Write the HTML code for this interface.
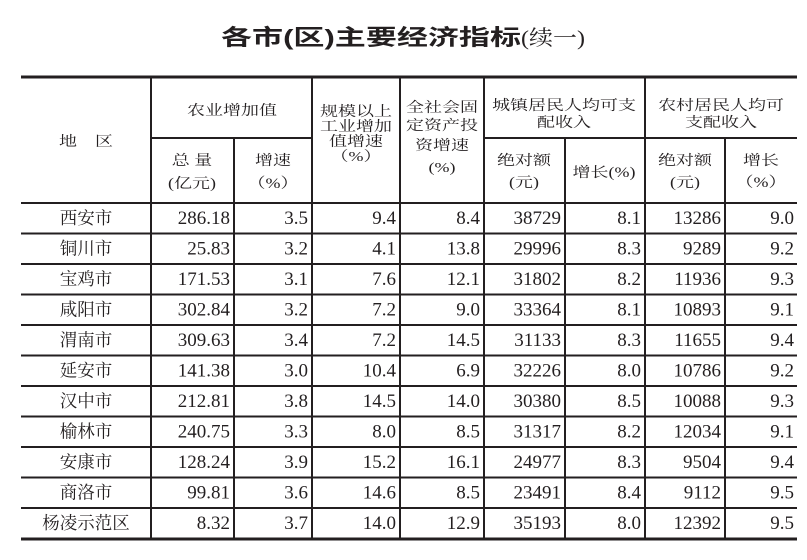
<!DOCTYPE html>
<html><head><meta charset="utf-8"><style>
html,body{margin:0;padding:0;background:#fff;}
svg{display:block;}
.h{font-family:"Liberation Serif","Noto Serif CJK SC",serif;font-size:18px;fill:#231f20;text-anchor:middle;}
.c{font-family:"Liberation Serif","Noto Serif CJK SC",serif;font-size:17.5px;fill:#231f20;text-anchor:middle;}
.n{font-family:"Liberation Serif",serif;font-size:19px;fill:#231f20;text-anchor:end;}
</style></head><body>
<svg width="807" height="560" xmlns="http://www.w3.org/2000/svg">
<text x="221" y="45" textLength="300" lengthAdjust="spacingAndGlyphs" style="font-family:'Liberation Sans','Noto Sans CJK SC',sans-serif;font-weight:bold;font-size:22px;fill:#231f20">各市(区)主要经济指标</text>
<text x="521" y="45" textLength="64" lengthAdjust="spacingAndGlyphs" style="font-family:'Liberation Serif','Noto Serif CJK SC',serif;font-size:21px;fill:#231f20">(续一)</text>
<g stroke="#231f20" fill="none">
<line x1="21" y1="77" x2="797" y2="77" stroke-width="3"/>
<line x1="21" y1="539" x2="797" y2="539" stroke-width="3"/>
<line x1="151" y1="138" x2="312" y2="138" stroke-width="2"/>
<line x1="484" y1="138" x2="797" y2="138" stroke-width="2"/>
<line x1="21" y1="203" x2="797" y2="203" stroke-width="2"/>
<g stroke-width="2">
<line x1="21" y1="233.5" x2="797" y2="233.5"/>
<line x1="21" y1="264" x2="797" y2="264"/>
<line x1="21" y1="294.5" x2="797" y2="294.5"/>
<line x1="21" y1="325" x2="797" y2="325"/>
<line x1="21" y1="355.5" x2="797" y2="355.5"/>
<line x1="21" y1="386" x2="797" y2="386"/>
<line x1="21" y1="416.5" x2="797" y2="416.5"/>
<line x1="21" y1="447" x2="797" y2="447"/>
<line x1="21" y1="477.5" x2="797" y2="477.5"/>
<line x1="21" y1="508" x2="797" y2="508"/>
<line x1="151" y1="77" x2="151" y2="539"/>
<line x1="234" y1="138" x2="234" y2="539"/>
<line x1="312" y1="77" x2="312" y2="539"/>
<line x1="400" y1="77" x2="400" y2="539"/>
<line x1="484" y1="77" x2="484" y2="539"/>
<line x1="565" y1="138" x2="565" y2="539"/>
<line x1="645" y1="77" x2="645" y2="539"/>
<line x1="725" y1="138" x2="725" y2="539"/>
</g></g>
<text class="h" transform="translate(86,146) scale(1,0.8)">地　区</text>
<text class="h" transform="translate(232,115) scale(1,0.8)">农业增加值</text>
<text class="h" transform="translate(192,165) scale(1,0.8)">总 量</text>
<text class="h" transform="translate(192,188) scale(1,0.8)">(亿元)</text>
<text class="h" transform="translate(273,165) scale(1,0.8)">增速</text>
<text class="h" transform="translate(273,188) scale(1,0.8)">（%）</text>
<text class="h" transform="translate(356,116) scale(1,0.78)">规模以上</text>
<text class="h" transform="translate(356,131) scale(1,0.78)">工业增加</text>
<text class="h" transform="translate(356,146) scale(1,0.78)">值增速</text>
<text class="h" transform="translate(356,161) scale(1,0.78)">（%）</text>
<text class="h" transform="translate(442,112) scale(1,0.78)">全社会固</text>
<text class="h" transform="translate(442,130) scale(1,0.78)">定资产投</text>
<text class="h" transform="translate(442,150) scale(1,0.78)">资增速</text>
<text class="h" transform="translate(442,172) scale(1,0.78)">(%)</text>
<text class="h" transform="translate(564,110) scale(1,0.8)">城镇居民人均可支</text>
<text class="h" transform="translate(564,127) scale(1,0.8)">配收入</text>
<text class="h" transform="translate(721,110) scale(1,0.8)">农村居民人均可</text>
<text class="h" transform="translate(721,127) scale(1,0.8)">支配收入</text>
<text class="h" transform="translate(524,165) scale(1,0.8)">绝对额</text>
<text class="h" transform="translate(524,187) scale(1,0.8)">(元)</text>
<text class="h" transform="translate(604,177) scale(1,0.8)">增长(%)</text>
<text class="h" transform="translate(685,165) scale(1,0.8)">绝对额</text>
<text class="h" transform="translate(685,187) scale(1,0.8)">(元)</text>
<text class="h" transform="translate(761,165) scale(1,0.8)">增长</text>
<text class="h" transform="translate(761,187) scale(1,0.8)">（%）</text>
<text class="c" x="86" y="224">西安市</text><text class="n" x="230" y="224">286.18</text><text class="n" x="308" y="224">3.5</text><text class="n" x="396" y="224">9.4</text><text class="n" x="480" y="224">8.4</text><text class="n" x="561" y="224">38729</text><text class="n" x="641" y="224">8.1</text><text class="n" x="721" y="224">13286</text><text class="n" x="794" y="224">9.0</text>
<text class="c" x="86" y="254.5">铜川市</text><text class="n" x="230" y="254.5">25.83</text><text class="n" x="308" y="254.5">3.2</text><text class="n" x="396" y="254.5">4.1</text><text class="n" x="480" y="254.5">13.8</text><text class="n" x="561" y="254.5">29996</text><text class="n" x="641" y="254.5">8.3</text><text class="n" x="721" y="254.5">9289</text><text class="n" x="794" y="254.5">9.2</text>
<text class="c" x="86" y="285">宝鸡市</text><text class="n" x="230" y="285">171.53</text><text class="n" x="308" y="285">3.1</text><text class="n" x="396" y="285">7.6</text><text class="n" x="480" y="285">12.1</text><text class="n" x="561" y="285">31802</text><text class="n" x="641" y="285">8.2</text><text class="n" x="721" y="285">11936</text><text class="n" x="794" y="285">9.3</text>
<text class="c" x="86" y="315.5">咸阳市</text><text class="n" x="230" y="315.5">302.84</text><text class="n" x="308" y="315.5">3.2</text><text class="n" x="396" y="315.5">7.2</text><text class="n" x="480" y="315.5">9.0</text><text class="n" x="561" y="315.5">33364</text><text class="n" x="641" y="315.5">8.1</text><text class="n" x="721" y="315.5">10893</text><text class="n" x="794" y="315.5">9.1</text>
<text class="c" x="86" y="346">渭南市</text><text class="n" x="230" y="346">309.63</text><text class="n" x="308" y="346">3.4</text><text class="n" x="396" y="346">7.2</text><text class="n" x="480" y="346">14.5</text><text class="n" x="561" y="346">31133</text><text class="n" x="641" y="346">8.3</text><text class="n" x="721" y="346">11655</text><text class="n" x="794" y="346">9.4</text>
<text class="c" x="86" y="376.5">延安市</text><text class="n" x="230" y="376.5">141.38</text><text class="n" x="308" y="376.5">3.0</text><text class="n" x="396" y="376.5">10.4</text><text class="n" x="480" y="376.5">6.9</text><text class="n" x="561" y="376.5">32226</text><text class="n" x="641" y="376.5">8.0</text><text class="n" x="721" y="376.5">10786</text><text class="n" x="794" y="376.5">9.2</text>
<text class="c" x="86" y="407">汉中市</text><text class="n" x="230" y="407">212.81</text><text class="n" x="308" y="407">3.8</text><text class="n" x="396" y="407">14.5</text><text class="n" x="480" y="407">14.0</text><text class="n" x="561" y="407">30380</text><text class="n" x="641" y="407">8.5</text><text class="n" x="721" y="407">10088</text><text class="n" x="794" y="407">9.3</text>
<text class="c" x="86" y="437.5">榆林市</text><text class="n" x="230" y="437.5">240.75</text><text class="n" x="308" y="437.5">3.3</text><text class="n" x="396" y="437.5">8.0</text><text class="n" x="480" y="437.5">8.5</text><text class="n" x="561" y="437.5">31317</text><text class="n" x="641" y="437.5">8.2</text><text class="n" x="721" y="437.5">12034</text><text class="n" x="794" y="437.5">9.1</text>
<text class="c" x="86" y="468">安康市</text><text class="n" x="230" y="468">128.24</text><text class="n" x="308" y="468">3.9</text><text class="n" x="396" y="468">15.2</text><text class="n" x="480" y="468">16.1</text><text class="n" x="561" y="468">24977</text><text class="n" x="641" y="468">8.3</text><text class="n" x="721" y="468">9504</text><text class="n" x="794" y="468">9.4</text>
<text class="c" x="86" y="498.5">商洛市</text><text class="n" x="230" y="498.5">99.81</text><text class="n" x="308" y="498.5">3.6</text><text class="n" x="396" y="498.5">14.6</text><text class="n" x="480" y="498.5">8.5</text><text class="n" x="561" y="498.5">23491</text><text class="n" x="641" y="498.5">8.4</text><text class="n" x="721" y="498.5">9112</text><text class="n" x="794" y="498.5">9.5</text>
<text class="c" x="86" y="529">杨凌示范区</text><text class="n" x="230" y="529">8.32</text><text class="n" x="308" y="529">3.7</text><text class="n" x="396" y="529">14.0</text><text class="n" x="480" y="529">12.9</text><text class="n" x="561" y="529">35193</text><text class="n" x="641" y="529">8.0</text><text class="n" x="721" y="529">12392</text><text class="n" x="794" y="529">9.5</text>
</svg>
</body></html>
